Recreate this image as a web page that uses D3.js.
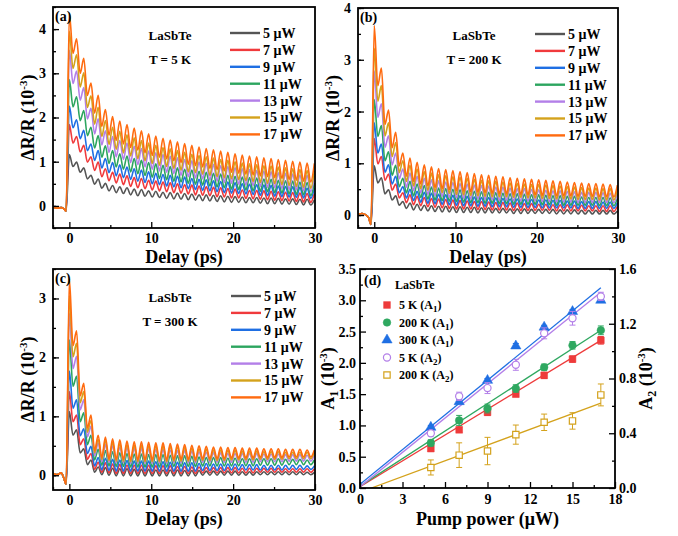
<!DOCTYPE html>
<html>
<head>
<meta charset="utf-8">
<title>LaSbTe transient reflectivity</title>
<style>
  body { margin: 0; background: #fff; }
  svg { display: block; font-family: "Liberation Serif", "Times New Roman", serif; font-weight: bold; }
  .frame { fill: none; stroke: #000; stroke-width: 1.8px; }
  .axis path { display: none; }
  .axis line { stroke: #000; stroke-width: 1.3px; }
  .axis text { font-family: "Liberation Serif", serif; font-size: 14px; font-weight: bold; fill: #000; }
  .trace { fill: none; stroke-width: 1.6px; stroke-linejoin: round; }
  .title { font-size: 18px; }
  .note { font-size: 13px; }
  .leg { font-size: 14px; }
  .legd { font-size: 12px; }
</style>
</head>
<body>
<svg></svg>
<script src="https://d3js.org/d3.v7.min.js"></script>
<script>
// legend entries and colours of the power series
const powers = ["5 μW", "7 μW", "9 μW", "11 μW", "13 μW", "15 μW", "17 μW"];
const powerColors = ["#555555", "#f03a3c", "#1f6fe3", "#2ca55f", "#b37fe8", "#d4a21c", "#ff6b10"];

// delay times (ps): baseline before time zero, then oscillation peaks and troughs
const preT = [-2, -1.5, -1, -0.7, -0.4];
const peakT = [0, 0.88, 1.76, 2.64, 3.52, 4.4, 5.28, 6.16, 7.04, 7.92, 8.8, 9.68, 10.56, 11.44, 12.32, 13.2, 14.08, 14.96, 15.84, 16.72, 17.6, 18.48, 19.36, 20.24, 21.12, 22, 22.88, 23.76, 24.64, 25.52, 26.4, 27.28, 28.16, 29.04, 29.92];
const troughT = [0.44, 1.32, 2.2, 3.08, 3.96, 4.84, 5.72, 6.6, 7.48, 8.36, 9.24, 10.12, 11, 11.88, 12.76, 13.64, 14.52, 15.4, 16.28, 17.16, 18.04, 18.92, 19.8, 20.68, 21.56, 22.44, 23.32, 24.2, 25.08, 25.96, 26.84, 27.72, 28.6, 29.48];

// (a) T = 5 K, ΔR/R in 1e-3, one row per power
const preA = [-0.03, -0.05, -0.04, -0.06, -0.12];
const peaksA = [
  [1.16,0.99,0.86,0.69,0.61,0.51,0.46,0.43,0.41,0.38,0.37,0.34,0.33,0.31,0.30,0.29,0.28,0.27,0.25,0.25,0.24,0.23,0.22,0.21,0.20,0.19,0.19,0.18,0.18,0.17,0.16,0.16,0.15,0.15,0.14],
  [1.84,1.57,1.37,1.11,0.99,0.84,0.76,0.72,0.68,0.64,0.62,0.58,0.56,0.54,0.52,0.50,0.48,0.47,0.45,0.43,0.42,0.41,0.39,0.38,0.36,0.35,0.35,0.34,0.33,0.32,0.31,0.30,0.29,0.28,0.28],
  [2.26,1.95,1.71,1.40,1.25,1.07,0.98,0.93,0.88,0.84,0.81,0.77,0.74,0.71,0.69,0.67,0.65,0.62,0.60,0.59,0.57,0.55,0.54,0.52,0.50,0.49,0.48,0.47,0.46,0.45,0.44,0.43,0.42,0.40,0.40],
  [2.86,2.47,2.16,1.78,1.59,1.36,1.25,1.18,1.13,1.07,1.03,0.98,0.95,0.92,0.89,0.86,0.83,0.81,0.78,0.76,0.74,0.72,0.69,0.67,0.65,0.64,0.63,0.61,0.60,0.58,0.57,0.56,0.54,0.53,0.52],
  [3.52,3.05,2.68,2.21,1.97,1.70,1.57,1.48,1.42,1.35,1.30,1.24,1.20,1.16,1.12,1.09,1.05,1.02,0.99,0.96,0.94,0.91,0.89,0.86,0.84,0.82,0.80,0.79,0.77,0.75,0.74,0.72,0.70,0.69,0.68],
  [3.95,3.42,3.01,2.49,2.23,1.93,1.78,1.69,1.61,1.54,1.48,1.42,1.37,1.32,1.29,1.25,1.21,1.17,1.14,1.11,1.08,1.05,1.03,1.00,0.97,0.95,0.93,0.91,0.90,0.88,0.86,0.84,0.82,0.80,0.79],
  [4.35,3.78,3.34,2.78,2.50,2.18,2.02,1.92,1.84,1.76,1.70,1.63,1.58,1.53,1.49,1.45,1.41,1.37,1.33,1.30,1.27,1.24,1.21,1.18,1.15,1.13,1.11,1.09,1.07,1.05,1.03,1.01,0.99,0.97,0.96]
];
const troughsA = [
  [0.89,0.76,0.61,0.49,0.40,0.34,0.30,0.28,0.25,0.23,0.22,0.20,0.19,0.17,0.16,0.15,0.14,0.13,0.12,0.11,0.10,0.09,0.08,0.08,0.07,0.07,0.06,0.05,0.05,0.04,0.04,0.03,0.02,0.02],
  [1.42,1.22,0.99,0.80,0.66,0.57,0.52,0.48,0.44,0.41,0.39,0.36,0.34,0.32,0.30,0.29,0.27,0.25,0.24,0.23,0.21,0.20,0.18,0.18,0.17,0.16,0.15,0.14,0.13,0.12,0.11,0.10,0.09,0.08],
  [1.77,1.52,1.25,1.03,0.86,0.75,0.68,0.64,0.60,0.56,0.53,0.50,0.48,0.45,0.43,0.41,0.39,0.37,0.35,0.34,0.32,0.30,0.29,0.28,0.27,0.26,0.24,0.23,0.22,0.21,0.20,0.19,0.18,0.17],
  [2.24,1.93,1.59,1.31,1.10,0.96,0.88,0.83,0.77,0.73,0.69,0.65,0.62,0.59,0.56,0.54,0.51,0.49,0.47,0.45,0.43,0.41,0.38,0.37,0.36,0.34,0.33,0.32,0.30,0.29,0.27,0.26,0.25,0.23],
  [2.77,2.39,1.97,1.63,1.38,1.21,1.11,1.05,0.98,0.93,0.88,0.83,0.79,0.76,0.73,0.69,0.66,0.63,0.61,0.58,0.56,0.53,0.51,0.49,0.47,0.46,0.44,0.42,0.41,0.39,0.37,0.36,0.34,0.32],
  [3.11,2.69,2.23,1.85,1.57,1.39,1.28,1.20,1.13,1.07,1.02,0.96,0.92,0.89,0.85,0.81,0.77,0.75,0.72,0.69,0.66,0.63,0.61,0.59,0.57,0.55,0.53,0.51,0.50,0.48,0.46,0.44,0.42,0.40],
  [3.45,3.00,2.50,2.10,1.80,1.60,1.48,1.40,1.32,1.26,1.20,1.14,1.10,1.06,1.02,0.98,0.94,0.91,0.88,0.85,0.82,0.79,0.76,0.74,0.72,0.70,0.68,0.66,0.64,0.62,0.60,0.58,0.56,0.54]
];

// (b) T = 200 K
const preB = [0.02, 0.03, 0.0, -0.05, -0.18];
const peaksB = [
  [0.95,0.72,0.49,0.37,0.26,0.23,0.21,0.19,0.18,0.17,0.17,0.16,0.16,0.15,0.15,0.14,0.14,0.13,0.13,0.12,0.12,0.12,0.11,0.11,0.11,0.11,0.10,0.10,0.10,0.09,0.09,0.09,0.09,0.09,0.08],
  [1.48,1.13,0.79,0.60,0.43,0.39,0.36,0.34,0.32,0.31,0.30,0.29,0.28,0.27,0.26,0.26,0.25,0.24,0.24,0.23,0.23,0.22,0.22,0.21,0.21,0.20,0.20,0.20,0.19,0.19,0.18,0.18,0.18,0.18,0.17],
  [1.78,1.37,0.97,0.75,0.55,0.50,0.46,0.44,0.42,0.40,0.39,0.38,0.37,0.36,0.35,0.34,0.34,0.33,0.32,0.31,0.31,0.30,0.30,0.29,0.29,0.28,0.28,0.27,0.27,0.26,0.26,0.26,0.25,0.25,0.24],
  [2.23,1.73,1.22,0.96,0.71,0.65,0.60,0.57,0.54,0.52,0.51,0.50,0.49,0.47,0.46,0.45,0.44,0.43,0.42,0.41,0.41,0.40,0.39,0.39,0.38,0.37,0.37,0.36,0.36,0.35,0.34,0.34,0.34,0.33,0.32],
  [2.78,2.15,1.53,1.20,0.89,0.81,0.75,0.71,0.68,0.66,0.64,0.63,0.61,0.60,0.58,0.57,0.56,0.54,0.54,0.52,0.51,0.51,0.50,0.49,0.48,0.47,0.47,0.46,0.45,0.44,0.44,0.44,0.43,0.42,0.41],
  [3.22,2.50,1.78,1.40,1.05,0.96,0.89,0.84,0.81,0.78,0.76,0.74,0.73,0.71,0.69,0.67,0.66,0.65,0.64,0.62,0.61,0.60,0.59,0.59,0.58,0.57,0.56,0.55,0.54,0.53,0.52,0.52,0.51,0.51,0.50],
  [3.66,2.84,2.03,1.60,1.20,1.10,1.02,0.97,0.93,0.90,0.88,0.86,0.84,0.82,0.80,0.78,0.77,0.75,0.74,0.72,0.71,0.70,0.69,0.68,0.67,0.66,0.65,0.64,0.63,0.62,0.61,0.61,0.60,0.59,0.58]
];
const troughsB = [
  [0.62,0.41,0.29,0.19,0.13,0.10,0.09,0.08,0.07,0.06,0.06,0.05,0.05,0.05,0.04,0.04,0.04,0.04,0.04,0.03,0.03,0.03,0.03,0.03,0.03,0.02,0.02,0.02,0.02,0.02,0.02,0.02,0.02,0.02],
  [0.99,0.67,0.48,0.33,0.24,0.20,0.18,0.16,0.15,0.14,0.13,0.12,0.12,0.12,0.11,0.11,0.10,0.10,0.10,0.09,0.09,0.09,0.09,0.09,0.09,0.08,0.08,0.08,0.08,0.08,0.08,0.07,0.07,0.07],
  [1.20,0.83,0.60,0.43,0.33,0.28,0.25,0.23,0.22,0.21,0.20,0.19,0.18,0.18,0.17,0.17,0.16,0.16,0.16,0.15,0.15,0.15,0.15,0.14,0.14,0.14,0.14,0.14,0.13,0.13,0.13,0.13,0.13,0.13],
  [1.52,1.05,0.77,0.55,0.43,0.37,0.34,0.31,0.29,0.28,0.27,0.26,0.25,0.24,0.24,0.23,0.23,0.22,0.22,0.21,0.21,0.21,0.21,0.20,0.20,0.19,0.19,0.19,0.19,0.19,0.19,0.18,0.18,0.18],
  [1.89,1.31,0.97,0.70,0.54,0.47,0.43,0.40,0.37,0.36,0.34,0.33,0.32,0.31,0.31,0.30,0.29,0.28,0.28,0.27,0.27,0.27,0.27,0.26,0.26,0.25,0.25,0.25,0.24,0.24,0.24,0.24,0.24,0.24],
  [2.20,1.53,1.13,0.82,0.65,0.56,0.51,0.48,0.45,0.43,0.42,0.40,0.39,0.38,0.37,0.36,0.35,0.35,0.35,0.34,0.34,0.33,0.33,0.32,0.32,0.31,0.31,0.31,0.30,0.30,0.30,0.29,0.29,0.29],
  [2.50,1.75,1.30,0.95,0.75,0.65,0.60,0.56,0.53,0.51,0.49,0.47,0.46,0.45,0.44,0.43,0.42,0.41,0.41,0.40,0.40,0.39,0.39,0.38,0.38,0.37,0.37,0.37,0.36,0.36,0.36,0.35,0.35,0.35]
];

// (c) T = 300 K
const preC = [0.03, 0.01, 0.04, -0.04, -0.15];
const peaksC = [
  [1.08,0.77,0.45,0.26,0.14,0.13,0.12,0.11,0.11,0.10,0.10,0.10,0.09,0.09,0.09,0.09,0.08,0.08,0.08,0.07,0.07,0.07,0.07,0.07,0.06,0.06,0.06,0.06,0.06,0.06,0.06,0.06,0.06,0.05,0.05],
  [1.42,1.02,0.62,0.37,0.22,0.21,0.19,0.18,0.17,0.17,0.17,0.17,0.16,0.16,0.16,0.15,0.15,0.14,0.14,0.13,0.13,0.13,0.13,0.13,0.12,0.12,0.12,0.12,0.12,0.12,0.11,0.11,0.11,0.11,0.11],
  [1.77,1.28,0.79,0.49,0.30,0.29,0.27,0.26,0.25,0.24,0.24,0.24,0.23,0.23,0.22,0.22,0.21,0.21,0.20,0.20,0.19,0.19,0.19,0.19,0.18,0.18,0.18,0.17,0.17,0.17,0.17,0.17,0.17,0.16,0.16],
  [2.30,1.68,1.06,0.68,0.44,0.42,0.40,0.38,0.37,0.36,0.36,0.35,0.35,0.35,0.34,0.33,0.33,0.32,0.31,0.30,0.30,0.30,0.29,0.29,0.28,0.28,0.28,0.28,0.28,0.28,0.27,0.27,0.27,0.26,0.26],
  [2.75,2.02,1.28,0.83,0.55,0.52,0.50,0.48,0.47,0.46,0.46,0.45,0.44,0.44,0.43,0.42,0.42,0.41,0.40,0.39,0.38,0.38,0.37,0.37,0.37,0.37,0.37,0.36,0.36,0.36,0.35,0.35,0.35,0.34,0.34],
  [3.05,2.24,1.42,0.93,0.61,0.59,0.56,0.54,0.52,0.51,0.51,0.50,0.50,0.50,0.49,0.48,0.47,0.46,0.45,0.44,0.43,0.43,0.42,0.42,0.41,0.41,0.41,0.40,0.40,0.40,0.39,0.39,0.39,0.39,0.39],
  [3.33,2.45,1.56,1.02,0.68,0.65,0.62,0.60,0.58,0.57,0.57,0.56,0.55,0.55,0.54,0.53,0.52,0.51,0.50,0.49,0.48,0.48,0.47,0.47,0.46,0.46,0.46,0.45,0.45,0.45,0.44,0.44,0.44,0.43,0.43]
];
const troughsC = [
  [0.68,0.38,0.18,0.05,0.01,0,-0.01,-0.01,-0.01,-0.01,-0.01,-0.01,-0.01,-0.01,-0.01,-0.01,-0.01,-0.01,0,0,0,0,0,0,0,0,0.01,0.01,0.01,0.01,0.01,0.01,0.01,0.01],
  [0.91,0.52,0.27,0.10,0.05,0.04,0.03,0.03,0.03,0.03,0.03,0.03,0.03,0.03,0.03,0.03,0.03,0.03,0.04,0.04,0.04,0.04,0.04,0.04,0.04,0.04,0.05,0.05,0.05,0.05,0.05,0.05,0.05,0.05],
  [1.14,0.67,0.37,0.16,0.09,0.08,0.07,0.07,0.07,0.07,0.07,0.07,0.07,0.07,0.07,0.07,0.07,0.07,0.08,0.08,0.08,0.08,0.09,0.09,0.09,0.09,0.09,0.09,0.09,0.09,0.10,0.10,0.10,0.10],
  [1.51,0.91,0.52,0.26,0.17,0.16,0.15,0.15,0.14,0.14,0.14,0.14,0.14,0.14,0.15,0.15,0.15,0.15,0.16,0.16,0.16,0.16,0.16,0.16,0.16,0.16,0.17,0.17,0.17,0.17,0.18,0.18,0.18,0.18],
  [1.81,1.11,0.65,0.33,0.23,0.22,0.21,0.21,0.20,0.20,0.20,0.20,0.20,0.20,0.21,0.21,0.21,0.21,0.22,0.22,0.22,0.22,0.22,0.22,0.22,0.22,0.23,0.23,0.23,0.23,0.24,0.24,0.24,0.24],
  [2.01,1.23,0.73,0.38,0.27,0.25,0.24,0.24,0.23,0.23,0.23,0.23,0.23,0.23,0.24,0.24,0.24,0.24,0.25,0.25,0.25,0.25,0.26,0.26,0.26,0.26,0.27,0.27,0.27,0.27,0.28,0.28,0.28,0.28],
  [2.20,1.35,0.80,0.42,0.30,0.28,0.27,0.27,0.26,0.26,0.26,0.26,0.26,0.26,0.27,0.27,0.27,0.27,0.28,0.28,0.28,0.28,0.29,0.29,0.29,0.29,0.30,0.30,0.30,0.30,0.31,0.31,0.31,0.31]
];

// (d) amplitudes vs pump power (μW); A1 on left axis, A2 on right axis, both 1e-3
const pumpPower = [5, 7, 9, 11, 13, 15, 17];
const a1At5K = [0.63, 0.93, 1.21, 1.50, 1.80, 2.06, 2.36];
const a1At5KErr = [0.04, 0.04, 0.05, 0.04, 0.05, 0.05, 0.06];
const a1At200K = [0.72, 1.08, 1.27, 1.59, 1.93, 2.28, 2.52];
const a1At200KErr = [0.05, 0.08, 0.07, 0.06, 0.05, 0.06, 0.07];
const a1At300K = [0.97, 1.38, 1.72, 2.27, 2.57, 2.82, 3.00];
const a1At300KErr = [0.03, 0.03, 0.03, 0.04, 0.03, 0.03, 0.03];
const a2At5K = [0.40, 0.67, 0.73, 0.90, 1.13, 1.24, 1.40];
const a2At5KErr = [0.02, 0.03, 0.04, 0.04, 0.04, 0.05, 0.03];
const a2At200K = [0.15, 0.24, 0.27, 0.39, 0.48, 0.49, 0.68];
const a2At200KErr = [0.055, 0.09, 0.1, 0.07, 0.06, 0.06, 0.08];
// linear fits, start and end points [power, amplitude]
const fitA1At5K = [[0, 0.02], [17, 2.36]];
const fitA1At200K = [[0, 0.03], [17, 2.52]];
const fitA1At300K = [[0, 0.06], [17, 3.2]];
const fitA2At5K = [[0, 0.01], [17, 1.43]];
const fitA2At200K = [[0.8, 0], [17, 0.62]];

const svg = d3.select("svg").attr("width", 678).attr("height", 536);

// axis title with a "(10^-3)" unit, optional subscript after the main symbol
function unitLabel(text, main, sub) {
  text.append("tspan").text(main);
  if (sub) {
    text.append("tspan").attr("dy", 4).attr("font-size", 12).text(sub);
    text.append("tspan").attr("dy", -4).text(" (10");
  } else {
    text.append("tspan").text(" (10");
  }
  text.append("tspan").attr("dy", -7).attr("font-size", 11).text("-3");
  text.append("tspan").attr("dy", 7).text(")");
}

function styleAxis(g) {
  g.attr("class", "axis").attr("font-family", null).attr("font-size", null);
}

// panels (a)-(c): delay traces
const tracePanels = [
  {id: "a", left: 53, right: 315, top: 7, bottom: 228, yDomain: [-0.5, 4.5], yMajor: [0, 1, 2, 3, 4],
   pre: preA, peaks: peaksA, troughs: troughsA, temp: "T = 5 K", legX: 230, legY: 33, noteX: 170, noteY: 40, ylabX: 28},
  {id: "b", left: 358, right: 618, top: 8, bottom: 228, yDomain: [-0.25, 4], yMajor: [0, 1, 2, 3, 4],
   pre: preB, peaks: peaksB, troughs: troughsB, temp: "T = 200 K", legX: 535, legY: 34, noteX: 474, noteY: 40, ylabX: 333},
  {id: "c", left: 53, right: 315, top: 269, bottom: 490, yDomain: [-0.25, 3.5], yMajor: [0, 1, 2, 3],
   pre: preC, peaks: peaksC, troughs: troughsC, temp: "T = 300 K", legX: 231, legY: 296, noteX: 170, noteY: 302, ylabX: 28}
];

tracePanels.forEach(function(p) {
  const x = d3.scaleLinear().domain([-2, 30]).range([p.left, p.right]);
  const y = d3.scaleLinear().domain(p.yDomain).range([p.bottom, p.top]);

  svg.append("clipPath").attr("id", "clip-" + p.id)
    .append("rect").attr("x", p.left).attr("y", p.top)
    .attr("width", p.right - p.left).attr("height", p.bottom - p.top);

  const line = d3.line()
    .x(function(d) { return x(d[0]); })
    .y(function(d) { return y(d[1]); })
    .curve(d3.curveMonotoneX);

  const traces = svg.append("g").attr("clip-path", "url(#clip-" + p.id + ")");
  powers.forEach(function(pw, i) {
    const pts = preT.map(function(t, j) { return [t, p.pre[j]]; });
    p.peaks[i].forEach(function(v, j) {
      pts.push([peakT[j], v]);
      if (j < troughT.length) pts.push([troughT[j], p.troughs[i][j]]);
    });
    traces.append("path").datum(pts)
      .attr("class", "trace")
      .attr("stroke", powerColors[i])
      .attr("d", line);
  });

  // inward ticks, major and minor
  svg.append("g").attr("transform", "translate(0," + p.bottom + ")")
    .call(d3.axisBottom(x).tickValues([-2, 5, 15, 25]).tickSize(-3).tickFormat(""))
    .call(styleAxis);
  svg.append("g").attr("transform", "translate(0," + p.bottom + ")")
    .call(d3.axisBottom(x).tickValues([0, 10, 20, 30]).tickSize(-6).tickPadding(5).tickFormat(d3.format("d")))
    .call(styleAxis);
  const yMinor = d3.range(Math.ceil(p.yDomain[0] * 2) / 2, p.yDomain[1] + 0.01, 0.5);
  svg.append("g").attr("transform", "translate(" + p.left + ",0)")
    .call(d3.axisLeft(y).tickValues(yMinor).tickSize(-3).tickFormat(""))
    .call(styleAxis);
  svg.append("g").attr("transform", "translate(" + p.left + ",0)")
    .call(d3.axisLeft(y).tickValues(p.yMajor).tickSize(-6).tickPadding(7).tickFormat(d3.format("d")))
    .call(styleAxis);

  svg.append("rect").attr("class", "frame")
    .attr("x", p.left).attr("y", p.top)
    .attr("width", p.right - p.left).attr("height", p.bottom - p.top);

  // titles
  svg.append("text").attr("class", "title")
    .attr("x", (p.left + p.right) / 2).attr("y", p.bottom + 35)
    .attr("text-anchor", "middle").text("Delay (ps)");
  const yl = svg.append("text").attr("class", "title")
    .attr("transform", "translate(" + p.ylabX + "," + ((p.top + p.bottom) / 2) + ") rotate(-90)")
    .attr("text-anchor", "middle").attr("dy", "0.35em");
  unitLabel(yl, "ΔR/R");

  svg.append("text").attr("x", p.left + 2).attr("y", p.top + 14)
    .attr("font-size", 14).text("(" + p.id + ")");
  svg.append("text").attr("class", "note").attr("x", p.noteX).attr("y", p.noteY)
    .attr("text-anchor", "middle").text("LaSbTe");
  svg.append("text").attr("class", "note").attr("x", p.noteX).attr("y", p.noteY + 24)
    .attr("text-anchor", "middle").text(p.temp);

  // legend
  powers.forEach(function(pw, i) {
    const ly = p.legY + i * 16.9;
    svg.append("line").attr("x1", p.legX).attr("x2", p.legX + 30)
      .attr("y1", ly).attr("y2", ly)
      .attr("stroke", powerColors[i]).attr("stroke-width", 2.4);
    svg.append("text").attr("class", "leg").attr("x", p.legX + 33).attr("y", ly)
      .attr("dy", "0.35em").text(pw);
  });
});

// panel (d)
const dBox = {left: 360, right: 615, top: 269, bottom: 488};
const xD = d3.scaleLinear().domain([0, 18]).range([dBox.left, dBox.right]);
const yL = d3.scaleLinear().domain([0, 3.5]).range([dBox.bottom, dBox.top]);
const yR = d3.scaleLinear().domain([0, 1.6]).range([dBox.bottom, dBox.top]);

const dSeries = [
  {name: "5 K (A", vals: a1At5K, errs: a1At5KErr, fit: fitA1At5K, y: yL, color: "#ee3b3b", shape: d3.symbolSquare, size: 46, open: false},
  {name: "200 K (A", vals: a1At200K, errs: a1At200KErr, fit: fitA1At200K, y: yL, color: "#2fa860", shape: d3.symbolCircle, size: 46, open: false},
  {name: "300 K (A", vals: a1At300K, errs: a1At300KErr, fit: fitA1At300K, y: yL, color: "#1f6fe3", shape: d3.symbolTriangle, size: 46, open: false},
  {name: "5 K (A", vals: a2At5K, errs: a2At5KErr, fit: fitA2At5K, y: yR, color: "#b37fe8", shape: d3.symbolCircle, size: 40, open: true},
  {name: "200 K (A", vals: a2At200K, errs: a2At200KErr, fit: fitA2At200K, y: yR, color: "#d4a21c", shape: d3.symbolSquare, size: 40, open: true}
];
const dSubs = ["1", "1", "1", "2", "2"];

svg.append("clipPath").attr("id", "clip-d").append("rect")
  .attr("x", dBox.left).attr("y", dBox.top)
  .attr("width", dBox.right - dBox.left).attr("height", dBox.bottom - dBox.top);
const dPlot = svg.append("g").attr("clip-path", "url(#clip-d)");

dSeries.forEach(function(s) {
  dPlot.append("line")
    .attr("x1", xD(s.fit[0][0])).attr("y1", s.y(s.fit[0][1]))
    .attr("x2", xD(s.fit[1][0])).attr("y2", s.y(s.fit[1][1]))
    .attr("stroke", s.color).attr("stroke-width", 1.3);
});
dSeries.forEach(function(s) {
  const g = dPlot.append("g");
  pumpPower.forEach(function(pp, i) {
    const cx = xD(pp), lo = s.y(s.vals[i] - s.errs[i]), hi = s.y(s.vals[i] + s.errs[i]);
    g.append("line").attr("x1", cx).attr("x2", cx).attr("y1", lo).attr("y2", hi)
      .attr("stroke", s.color).attr("stroke-width", 1);
    [lo, hi].forEach(function(yy) {
      g.append("line").attr("x1", cx - 3).attr("x2", cx + 3).attr("y1", yy).attr("y2", yy)
        .attr("stroke", s.color).attr("stroke-width", 1);
    });
  });
  g.selectAll("path").data(s.vals).join("path")
    .attr("transform", function(d, i) { return "translate(" + xD(pumpPower[i]) + "," + s.y(d) + ")"; })
    .attr("d", d3.symbol(s.shape, s.size))
    .attr("fill", s.open ? "#fff" : s.color)
    .attr("stroke", s.color).attr("stroke-width", s.open ? 1.2 : 0.5);
});

svg.append("g").attr("transform", "translate(0," + dBox.bottom + ")")
  .call(d3.axisBottom(xD).tickValues(d3.range(1.5, 18, 3)).tickSize(-3).tickFormat(""))
  .call(styleAxis);
svg.append("g").attr("transform", "translate(0," + dBox.bottom + ")")
  .call(d3.axisBottom(xD).tickValues(d3.range(0, 19, 3)).tickSize(-6).tickPadding(6).tickFormat(d3.format("d")))
  .call(styleAxis);
svg.append("g").attr("transform", "translate(" + dBox.left + ",0)")
  .call(d3.axisLeft(yL).tickValues(d3.range(0.25, 3.5, 0.5)).tickSize(-3).tickFormat(""))
  .call(styleAxis);
svg.append("g").attr("transform", "translate(" + dBox.left + ",0)")
  .call(d3.axisLeft(yL).tickValues(d3.range(0, 3.51, 0.5)).tickSize(-6).tickPadding(4).tickFormat(d3.format(".1f")))
  .call(styleAxis);
svg.append("g").attr("transform", "translate(" + dBox.right + ",0)")
  .call(d3.axisRight(yR).tickValues([0.2, 0.6, 1.0, 1.4]).tickSize(-3).tickFormat(""))
  .call(styleAxis);
svg.append("g").attr("transform", "translate(" + dBox.right + ",0)")
  .call(d3.axisRight(yR).tickValues([0, 0.4, 0.8, 1.2, 1.6]).tickSize(-6).tickPadding(4).tickFormat(d3.format(".1f")))
  .call(styleAxis);

svg.append("rect").attr("class", "frame")
  .attr("x", dBox.left).attr("y", dBox.top)
  .attr("width", dBox.right - dBox.left).attr("height", dBox.bottom - dBox.top);

svg.append("text").attr("class", "title")
  .attr("x", (dBox.left + dBox.right) / 2).attr("y", dBox.bottom + 37)
  .attr("text-anchor", "middle").text("Pump power (μW)");
unitLabel(svg.append("text").attr("class", "title")
  .attr("transform", "translate(328," + ((dBox.top + dBox.bottom) / 2) + ") rotate(-90)")
  .attr("text-anchor", "middle").attr("dy", "0.35em"), "A", "1");
unitLabel(svg.append("text").attr("class", "title")
  .attr("transform", "translate(646," + ((dBox.top + dBox.bottom) / 2) + ") rotate(-90)")
  .attr("text-anchor", "middle").attr("dy", "0.35em"), "A", "2");

svg.append("text").attr("x", dBox.left + 4).attr("y", dBox.top + 16).attr("font-size", 14).text("(d)");
svg.append("text").attr("class", "legd").attr("x", 395).attr("y", 289).text("LaSbTe");

dSeries.forEach(function(s, i) {
  const ly = 305 + i * 17.5;
  svg.append("path")
    .attr("transform", "translate(387," + ly + ")")
    .attr("d", d3.symbol(s.shape, s.size))
    .attr("fill", s.open ? "#fff" : s.color)
    .attr("stroke", s.color).attr("stroke-width", s.open ? 1.2 : 0.5);
  const t = svg.append("text").attr("class", "legd").attr("x", 399).attr("y", ly).attr("dy", "0.35em");
  t.append("tspan").text(s.name);
  t.append("tspan").attr("dy", 3).attr("font-size", 9).text(dSubs[i]);
  t.append("tspan").attr("dy", -3).text(")");
});
</script>
</body>
</html>
